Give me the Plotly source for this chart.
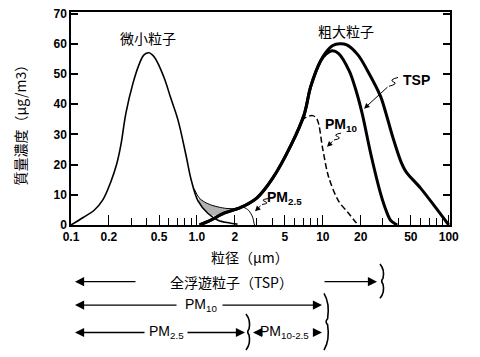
import numpy as np
import plotly.graph_objects as go

# ---------------- data (particle diameter in um, concentration ug/m3) ----------------
fine_d = [0.1, 0.125, 0.152, 0.18, 0.208, 0.23, 0.249, 0.273, 0.31, 0.35, 0.38, 0.416, 0.46,
          0.546, 0.62, 0.707, 0.82, 0.9, 1.02, 1.22, 1.47, 1.86, 2.1]
fine_c = [0, 2.5, 4.8, 8.5, 14.5, 20, 26.5, 37, 46.8, 53.5, 56.3, 57, 55.5,
          49, 42, 34.8, 23, 15, 8, 3.9, 1.6, 0.6, 0.3]

rise_d = [1.05, 1.29, 1.64, 2.23, 3.0, 4.0, 5.6, 7.1, 8.0, 9.6]
rise_c = [0, 1.6, 3.9, 5.8, 9, 15.5, 26.5, 36.5, 45.7, 54.3]

tsp_d = rise_d + [10.6, 12.0, 13.6, 15.5, 19, 22.7, 28.8, 31.7, 36, 41.7, 46, 59.5, 78, 100]
tsp_c = rise_c + [57.2, 59.4, 60.0, 59.6, 56.3, 51, 42.5, 37, 29, 21, 17.5, 12.3, 6, 0]

pm10t_d = rise_d + [10.6, 11.9, 13.3, 16.2, 18.2, 20.5, 24.2, 28.8, 32, 34.5, 39]
pm10t_c = rise_c + [56.6, 57.7, 56.8, 51, 45, 37, 23, 10.3, 4.5, 1.6, 0]

pm10_d = [6.8, 7.3, 8.3, 9.0, 10.0, 11.1, 13.3, 16.0, 18.2, 19.2]
pm10_c = [34.5, 35.6, 36.2, 35, 25, 16, 8, 3.9, 1, 0]

pm25_d = [0.95, 1.04, 1.15, 1.3, 1.5, 1.7, 1.9, 2.1, 2.36, 2.58, 2.77, 2.84, 2.87]
pm25_c = [12, 9, 7.6, 6.6, 5.9, 5.5, 5.4, 5.5, 5.8, 4.8, 2.6, 0.6, 0]

x_tick_vals = [0.1, 0.2, 0.5, 1, 2, 5, 10, 20, 50, 100]
x_tick_text = ["0.1", "0.2", "0.5", "1.0", "2", "5", "10", "20", "50", "100"]
x_minor_vals = [0.3, 0.4, 0.6, 0.7, 0.8, 0.9, 3, 4, 6, 7, 8, 9, 30, 40, 60, 70, 80, 90]
y_tick_vals = [0, 10, 20, 30, 40, 50, 60, 70]

# ---------------- figure geometry ----------------
W, H = 480, 357
L, T = 71, 7
PLOT_RIGHT, PLOT_BOTTOM = 450, 225
R, B = W - PLOT_RIGHT, H - PLOT_BOTTOM
PW, PH = W - L - R, H - T - B


def px(xs):
    # screen x pixel -> paper coordinate
    return (xs - L) / PW


def py(ys):
    # screen y pixel -> paper coordinate
    return (PLOT_BOTTOM - ys) / PH


fig = go.Figure()

# gray overlap region between PM2.5 curve and the fine/coarse curves
ld = np.log10
g_d = [d for d in pm25_d if 1.02 <= d <= 2.12]
g_up = [c for d, c in zip(pm25_d, pm25_c) if 1.02 <= d <= 2.12]
low = np.maximum(np.interp(ld(g_d), ld(fine_d), fine_c), np.interp(ld(g_d), ld(rise_d), rise_c))
low = np.minimum(low, g_up)
fig.add_trace(go.Scatter(x=g_d + g_d[::-1], y=list(g_up) + list(low[::-1]), fill="toself",
                         fillcolor="rgba(165,165,165,0.85)", line=dict(width=0),
                         mode="lines", hoverinfo="skip", showlegend=False))

line_kw = dict(mode="lines", showlegend=False, hoverinfo="skip")
fig.add_trace(go.Scatter(x=fine_d, y=fine_c, line=dict(color="black", width=1.6, shape="spline", smoothing=1.0), **line_kw))
fig.add_trace(go.Scatter(x=pm25_d, y=pm25_c, line=dict(color="black", width=1.0, shape="spline", smoothing=0.8), **line_kw))
fig.add_trace(go.Scatter(x=tsp_d, y=tsp_c, line=dict(color="black", width=3, shape="spline", smoothing=0.9), **line_kw))
fig.add_trace(go.Scatter(x=pm10t_d, y=pm10t_c, line=dict(color="black", width=3, shape="spline", smoothing=0.9), **line_kw))
fig.add_trace(go.Scatter(x=pm10_d, y=pm10_c, line=dict(color="black", width=1.5, dash="6px,3px", shape="spline", smoothing=0.9), **line_kw))

num_font = dict(family="Liberation Sans, Arial", size=12, color="black", weight="bold")
fig.update_xaxes(type="log", range=[-1, 2.01], showgrid=False, zeroline=False,
                 showline=True, linecolor="black", linewidth=1.5, mirror=True,
                 ticks="inside", ticklen=10, tickwidth=1.3, tickcolor="black",
                 tickmode="array", tickvals=x_tick_vals, ticktext=x_tick_text,
                 tickfont=num_font,
                 minor=dict(tickmode="array", tickvals=x_minor_vals, ticks="inside",
                            ticklen=7, tickwidth=1.3, tickcolor="black", showgrid=False))
fig.update_yaxes(range=[0, 70.5], showgrid=False, zeroline=False,
                 showline=True, linecolor="black", linewidth=1.5, mirror="ticks",
                 ticks="inside", ticklen=7, tickwidth=1.5, tickcolor="black",
                 tickmode="array", tickvals=y_tick_vals, tickfont=num_font)

jp = "Noto Sans CJK JP"
anns = []


def text(xs, ys, s, font):
    anns.append(dict(x=px(xs), y=py(ys), xref="paper", yref="paper", text=s, showarrow=False,
                     xanchor="center", yanchor="middle", font=font))


def arrow(tip, tail, size=1.4, width=1.3):
    anns.append(dict(x=px(tip[0]), y=py(tip[1]), xref="paper", yref="paper", showarrow=True,
                     ax=tail[0] - tip[0], ay=tail[1] - tip[1], text="", arrowhead=2,
                     arrowsize=size, arrowwidth=width, arrowcolor="black", standoff=0))


jfont = dict(family=jp, size=14, color="black")
lab_font = dict(family="Liberation Sans, Arial", size=14, color="black", weight="bold")
bot_font = dict(family="Liberation Sans, Arial", size=14, color="black")

# labels in plot
text(148, 34, "微小粒子", jfont)
text(346, 26, "粗大粒子", jfont)
text(416, 77, "TSP", lab_font)
text(341, 123, "PM<sub>10</sub>", lab_font)
text(284, 197, "PM<sub>2.5</sub>", lab_font)

# pointer arrows from labels
arrow((364, 106), (389, 83), 1.1, 1.0)
arrow((327, 145), (334, 138), 1.1, 1.0)
arrow((255, 211), (262, 204), 1.1, 1.0)

# axis titles
anns.append(dict(x=px(20), y=py(119), xref="paper", yref="paper", text="質量濃度（μg/m3）",
                 textangle=-90, showarrow=False, xanchor="center", yanchor="middle",
                 font=dict(family=jp, size=14, color="black")))
text(250, 258, "粒径（μm）", jfont)

# size-range arrows below chart
text(231, 283, "全浮遊粒子（TSP）", jfont)
text(201, 307, "PM<sub>10</sub>", bot_font)
text(166, 335, "PM<sub>2.5</sub>", bot_font)
text(284, 335, "PM<sub>10-2.5</sub>", bot_font)

arrow((75, 283), (137, 283))
arrow((377, 283), (323, 283))
arrow((75, 307), (178, 307))
arrow((322, 307), (221, 307))
arrow((75, 335), (146, 335))
arrow((245, 335), (186, 335))
arrow((253, 335), (261, 335))
arrow((322, 335), (314, 335))


def brace(x, y0, y1, w):
    ym = (y0 + y1) / 2
    s = "M {},{} Q {},{} {},{} Q {},{} {},{} Q {},{} {},{}".format(
        px(x), py(y0),
        px(x + w), py(y0 + (ym - y0) * 0.35), px(x + w * 0.6), py(ym - 3),
        px(x + w * 0.1), py(ym), px(x + w * 0.6), py(ym + 3),
        px(x + w), py(y1 - (y1 - ym) * 0.35), px(x), py(y1))
    return dict(type="path", path=s, xref="paper", yref="paper", line=dict(color="black", width=1.6))


def squiggle(x0, y0, x1, y1):
    # small "S" connector between a label and its pointer arrow
    mx, my = (x0 + x1) / 2, (y0 + y1) / 2
    s = "M {},{} Q {},{} {},{} Q {},{} {},{}".format(
        px(x0), py(y0), px(mx + 5), py(my + 2), px(mx), py(my),
        px(mx - 5), py(my - 2), px(x1), py(y1))
    return dict(type="path", path=s, xref="paper", yref="paper", line=dict(color="black", width=1.0))


shapes = [brace(380, 265, 300, 5), brace(324, 295, 353, 6), brace(246, 316, 353, 5),
          squiggle(389, 83, 398, 74), squiggle(334, 138, 341, 131), squiggle(262, 204, 268, 198)]

fig.update_layout(width=W, height=H, margin=dict(l=L, r=R, t=T, b=B),
                  paper_bgcolor="white", plot_bgcolor="white",
                  annotations=anns, shapes=shapes, showlegend=False)

fig.write_html("out.html", config={"displayModeBar": False},
               post_script="document.body.style.margin='0px';")
